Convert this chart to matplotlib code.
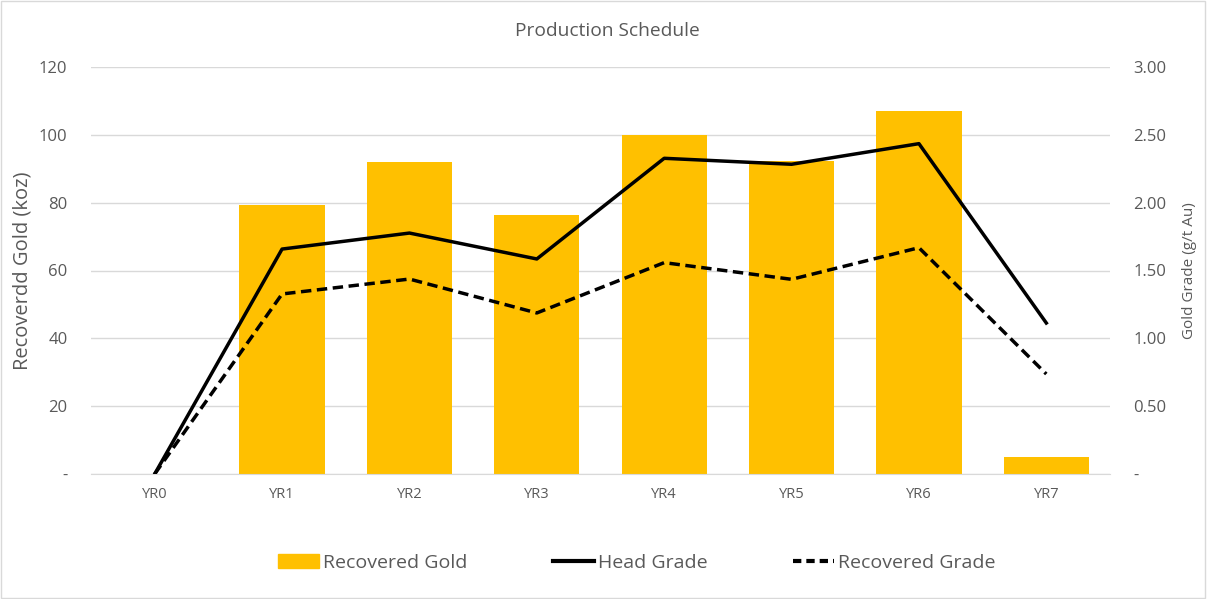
import matplotlib
matplotlib.use("Agg")
import matplotlib.pyplot as plt
from matplotlib.ticker import FixedLocator, FuncFormatter
from matplotlib.lines import Line2D
from matplotlib.patches import Patch, Rectangle

years = ["YR0", "YR1", "YR2", "YR3", "YR4", "YR5", "YR6", "YR7"]
recovered_gold = [0, 79.3, 92.0, 76.4, 99.9, 92.3, 107.0, 5.0]
head_grade = [0.0, 1.658, 1.776, 1.585, 2.327, 2.283, 2.435, 1.113]
recovered_grade = [0.0, 1.327, 1.437, 1.187, 1.558, 1.435, 1.668, 0.737]
left_ticks = [0, 20, 40, 60, 80, 100, 120]
right_ticks = [0, 0.5, 1.0, 1.5, 2.0, 2.5, 3.0]

plt.rcParams['font.family'] = ['Open Sans', 'DejaVu Sans']
txt = '#595959'
gold = '#FFC000'

fig = plt.figure(figsize=(12.07, 5.99), dpi=100)
ax = fig.add_axes([91/1207, 1-474/599, (1110-91)/1207, (474-67)/599])
x = list(range(len(years)))
ax.bar(x, recovered_gold, width=0.67, color=gold, zorder=2)
ax.set_xlim(-0.5, len(years)-0.5)
ax.set_ylim(0, 120)
ax.yaxis.set_major_locator(FixedLocator(left_ticks))
ax.yaxis.set_major_formatter(FuncFormatter(lambda v, p: '-' if v == 0 else f'{v:.0f}'))
ax.set_xticks(x)
ax.set_xticklabels(years)
ax.grid(axis='y', color='#D9D9D9', linewidth=1, zorder=0)
ax.set_axisbelow(True)
for s in ax.spines.values():
    s.set_visible(False)
ax.spines['bottom'].set_visible(True)
ax.spines['bottom'].set_color('#D9D9D9')
ax.tick_params(axis='both', length=0, colors=txt)
ax.tick_params(axis='y', pad=17, labelsize=12)
ax.tick_params(axis='x', pad=9, labelsize=10.5)
ax.set_ylabel('Recoverdd Gold (koz)', color=txt, fontsize=14.5)
ax.yaxis.set_label_coords(-58/1019, 0.5)

ax2 = ax.twinx()
ax2.plot(x, head_grade, color='black', linewidth=2.5, zorder=3)
ax2.plot(x, recovered_grade, color='black', linewidth=2.5, linestyle=(0, (3, 1.6)), zorder=3)
ax2.set_ylim(0, 3)
ax2.yaxis.set_major_locator(FixedLocator(right_ticks))
ax2.yaxis.set_major_formatter(FuncFormatter(lambda v, p: '-' if v == 0 else f'{v:.2f}'))
for s in ax2.spines.values():
    s.set_visible(False)
ax2.tick_params(axis='y', length=0, colors=txt, labelsize=12, pad=17)
ax2.set_ylabel('Gold Grade (g/t Au)', color=txt, fontsize=11)
ax2.yaxis.set_label_coords(1 + 72/1019, 0.5)

fig.text(607/1207, 1-31/599, 'Production Schedule', ha='center', va='center', color=txt, fontsize=13.8)

handles = [Patch(color=gold), Line2D([], [], color='black', lw=3),
           Line2D([], [], color='black', lw=3, linestyle=(0, (2, 1.2)))]
labels = ['Recovered Gold', 'Head Grade', 'Recovered Grade']
fig.legend(handles, labels, loc='center', bbox_to_anchor=(637/1207, 1-563/599), ncol=3,
           frameon=False, fontsize=14, labelcolor=txt, handlelength=2.1, handletextpad=0.22,
           columnspacing=4.4)

fig.add_artist(Rectangle((0.001, 0.001), 0.997, 0.997, transform=fig.transFigure,
                         fill=False, edgecolor='#D9D9D9', linewidth=1))
fig.savefig('out.png', dpi=100)
